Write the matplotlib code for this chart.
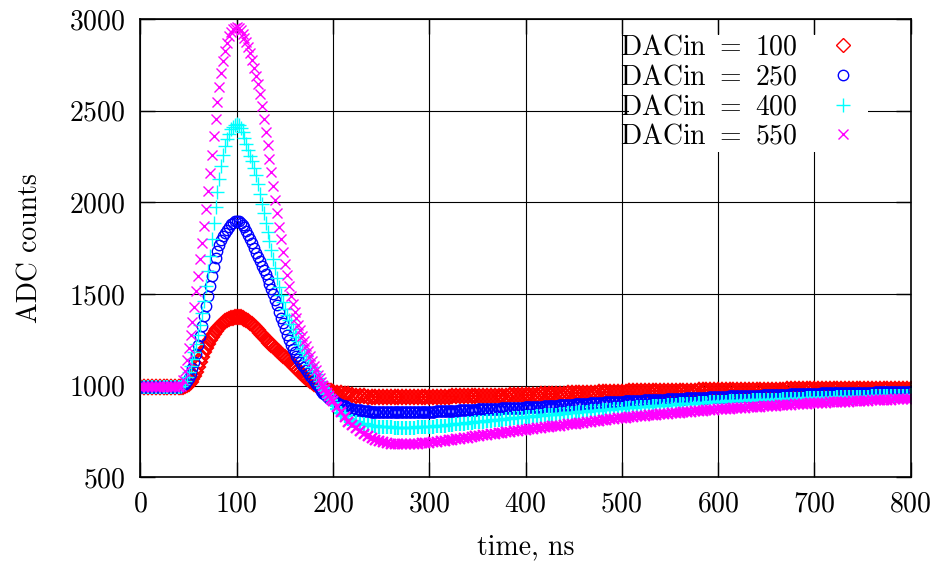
import numpy as np
import matplotlib
matplotlib.use("Agg")
import matplotlib.pyplot as plt
from matplotlib.patches import Rectangle

plt.rcParams["font.family"] = "cmr10"
plt.rcParams["mathtext.fontset"] = "cm"
plt.rcParams["axes.formatter.use_mathtext"] = True
plt.rcParams["font.size"] = 20

# time axis (ns): coarse on the baseline, 2 ns over the pulse, 4 ns on the tail
time_ns = np.concatenate([np.arange(0, 41, 4), np.arange(42, 201, 2), np.arange(204, 801, 4)])

# ADC counts
dac100 = [
    995, 995, 995, 995, 995, 995, 995, 995, 995, 995, 995,
    # 42 .. 200 ns
    995, 996, 999, 1004, 1012, 1023, 1037, 1055, 1076, 1100,
    1127, 1155, 1183, 1208, 1230, 1250, 1268, 1284, 1298, 1311,
    1323, 1334, 1344, 1352, 1359, 1365, 1369, 1372, 1374, 1375,
    1375, 1373, 1370, 1365, 1359, 1352, 1344, 1335, 1325, 1314,
    1302, 1290, 1278, 1266, 1255, 1245, 1235, 1225, 1215, 1205,
    1195, 1185, 1175, 1165, 1155, 1145, 1135, 1125, 1115, 1105,
    1095, 1085, 1075, 1065, 1055, 1045, 1036, 1027, 1018, 1010,
    1003, 997, 991, 986, 982, 978, 975, 972, 969, 967,
    # 204 .. 800 ns
    963, 959, 956, 953, 950, 947, 945, 943, 941, 940, 939, 938, 937,
    937, 937, 937, 937, 937, 938, 938, 938, 939, 939, 939, 940,
    940, 940, 941, 941, 941, 942, 942, 942, 943, 943, 944, 944, 944,
    945, 945, 946, 946, 947, 947, 947, 948, 948, 949, 949, 950,
    951, 951, 952, 953, 954, 954, 955, 956, 956, 957, 958, 959, 959,
    960, 961, 961, 962, 963, 964, 964, 965, 966, 966, 967, 968,
    968, 969, 969, 969, 970, 970, 970, 971, 971, 971, 972, 972, 972,
    973, 973, 973, 974, 974, 974, 975, 975, 975, 975, 976, 976,
    976, 976, 977, 977, 977, 977, 977, 978, 978, 978, 978, 978, 979,
    979, 979, 979, 979, 980, 980, 980, 980, 980, 981, 981, 981,
    981, 981, 982, 982, 982, 982, 982, 982, 983, 983, 983, 983, 983,
    983, 984, 984, 984, 984, 984, 984, 985, 985, 985, 985, 985,
]
dac250 = [
    995, 995, 995, 995, 995, 995, 995, 995, 995, 995, 995,
    # 42 .. 200 ns
    997, 1002, 1012, 1025, 1042, 1065, 1095, 1132, 1175, 1222,
    1272, 1325, 1380, 1435, 1490, 1545, 1600, 1650, 1697, 1735,
    1765, 1795, 1815, 1835, 1852, 1867, 1880, 1890, 1897, 1900,
    1897, 1890, 1879, 1864, 1845, 1823, 1800, 1776, 1750, 1724,
    1700, 1678, 1655, 1632, 1608, 1583, 1557, 1530, 1500, 1470,
    1438, 1405, 1372, 1340, 1308, 1278, 1250, 1225, 1202, 1182,
    1163, 1146, 1130, 1115, 1100, 1085, 1070, 1055, 1040, 1025,
    1011, 998, 986, 974, 963, 953, 944, 935, 927, 920,
    # 204 .. 800 ns
    908, 897, 888, 880, 874, 869, 866, 863, 861, 859, 858, 857, 856,
    856, 855, 855, 855, 855, 855, 855, 856, 856, 857, 857, 858,
    859, 860, 861, 862, 863, 864, 865, 866, 867, 868, 869, 870, 871,
    872, 873, 874, 875, 876, 877, 878, 879, 880, 881, 881, 882,
    883, 885, 886, 887, 888, 890, 891, 892, 894, 895, 896, 897, 899,
    900, 901, 903, 904, 905, 906, 908, 909, 910, 912, 913, 914,
    915, 916, 917, 918, 919, 920, 921, 922, 923, 924, 925, 926, 927,
    928, 929, 930, 931, 932, 933, 934, 935, 936, 937, 939, 940,
    941, 941, 942, 943, 943, 944, 945, 945, 946, 947, 947, 948, 949,
    949, 950, 951, 952, 952, 953, 953, 954, 955, 955, 956, 957,
    957, 958, 958, 959, 959, 959, 960, 960, 961, 961, 962, 962, 962,
    963, 963, 964, 964, 965, 965, 965, 966, 966, 967, 967, 968,
]
dac400 = [
    995, 995, 995, 995, 995, 995, 995, 995, 995, 995, 995,
    # 42 .. 200 ns
    998, 1008, 1025, 1048, 1075, 1108, 1145, 1185, 1228, 1275,
    1330, 1395, 1465, 1545, 1625, 1710, 1800, 1890, 1975, 2055,
    2130, 2200, 2258, 2305, 2345, 2375, 2398, 2413, 2422, 2425,
    2420, 2405, 2382, 2352, 2318, 2285, 2255, 2225, 2190, 2150,
    2100, 2045, 1990, 1940, 1890, 1840, 1790, 1740, 1690, 1640,
    1590, 1540, 1495, 1455, 1420, 1388, 1360, 1335, 1312, 1290,
    1268, 1246, 1224, 1202, 1180, 1160, 1140, 1120, 1100, 1080,
    1062, 1043, 1025, 1006, 988, 970, 953, 936, 920, 905,
    # 204 .. 800 ns
    876, 853, 835, 821, 810, 801, 794, 789, 785, 782, 779, 777, 775,
    774, 773, 772, 771, 771, 771, 772, 772, 773, 774, 774, 775,
    777, 779, 781, 783, 786, 788, 790, 792, 794, 796, 798, 800, 803,
    805, 807, 809, 811, 813, 815, 817, 820, 822, 824, 826, 828,
    830, 832, 834, 836, 838, 840, 841, 843, 845, 847, 849, 851, 853,
    855, 857, 859, 861, 863, 864, 866, 868, 870, 872, 874, 876,
    877, 879, 880, 882, 883, 885, 886, 888, 889, 890, 892, 893, 895,
    896, 898, 899, 901, 902, 903, 905, 906, 908, 909, 911, 912,
    913, 914, 915, 915, 916, 917, 918, 919, 920, 920, 921, 922, 923,
    924, 925, 925, 926, 927, 928, 929, 930, 930, 931, 932, 933,
    934, 934, 935, 935, 936, 937, 937, 938, 938, 939, 940, 940, 941,
    941, 942, 943, 943, 944, 944, 945, 946, 946, 947, 947, 948,
]
dac550 = [
    995, 995, 995, 995, 995, 995, 995, 995, 995, 995, 995,
    # 42 .. 200 ns
    1000, 1030, 1080, 1140, 1205, 1275, 1350, 1430, 1515, 1600,
    1690, 1780, 1870, 1965, 2060, 2160, 2260, 2360, 2455, 2545,
    2630, 2705, 2770, 2825, 2870, 2905, 2930, 2945, 2953, 2955,
    2950, 2938, 2920, 2898, 2872, 2845, 2812, 2775, 2735, 2690,
    2645, 2590, 2525, 2455, 2385, 2312, 2238, 2163, 2088, 2013,
    1940, 1868, 1798, 1730, 1665, 1603, 1545, 1492, 1445, 1405,
    1368, 1334, 1302, 1272, 1244, 1216, 1189, 1162, 1136, 1110,
    1085, 1060, 1040, 1018, 998, 980, 962, 945, 930, 915,
    # 204 .. 800 ns
    885, 855, 828, 805, 785, 768, 752, 738, 726, 715, 706, 698, 692,
    688, 685, 683, 682, 682, 682, 683, 684, 685, 687, 688, 690,
    693, 696, 698, 701, 704, 707, 710, 712, 715, 718, 721, 724, 726,
    729, 732, 735, 738, 740, 743, 746, 749, 752, 754, 757, 760,
    763, 765, 768, 770, 773, 776, 778, 781, 783, 786, 789, 791, 794,
    796, 799, 802, 804, 807, 809, 812, 815, 817, 820, 822, 825,
    827, 829, 831, 833, 834, 836, 838, 840, 842, 844, 846, 848, 850,
    851, 853, 855, 857, 859, 861, 863, 864, 866, 868, 870, 872,
    873, 875, 876, 877, 879, 880, 881, 883, 884, 885, 887, 888, 889,
    891, 892, 893, 895, 896, 897, 899, 900, 901, 903, 904, 905,
    906, 907, 908, 909, 910, 911, 912, 913, 914, 915, 916, 917, 918,
    919, 920, 921, 922, 923, 924, 925, 926, 927, 928, 929, 930,
]

labels = [r"DACin $=$ 100", r"DACin $=$ 250", r"DACin $=$ 400", r"DACin $=$ 550"]
colors = ["#ff0000", "#0000ff", "#00ffff", "#ff00ff"]
markers = ["D", "o", "+", "x"]
sizes = [7, 7.5, 10, 7.5]
pulse_widths = [1.5, 1.0, 1.0, 1.0]

fig = plt.figure(figsize=(9.36, 5.65), dpi=100)
ax = fig.add_axes([0.1501, 0.1549, 0.8227, 0.8115])
ax.set_axisbelow(True)

# flat parts are sampled every 1 ns in the original, so the marks there merge
# into a solid band; use a heavier stroke there to get the same look
flat = (time_ns < 42) | (time_ns >= 190)

for ys, lab, c, m, s, pw in zip([dac100, dac250, dac400, dac550], labels, colors,
                                markers, sizes, pulse_widths):
    ys = np.array(ys)
    ax.plot(time_ns[~flat], ys[~flat], linestyle="none", marker=m, markersize=s,
            markerfacecolor="none", markeredgecolor=c, markeredgewidth=pw,
            zorder=2)
    ax.plot(time_ns[flat], ys[flat], linestyle="none", marker=m, markersize=s,
            markerfacecolor="none", markeredgecolor=c, markeredgewidth=1.7,
            zorder=2)
    # legend entry with the thin stroke of the key
    ax.plot([], [], linestyle="none", marker=m, markersize=s, markerfacecolor="none",
            markeredgecolor=c, markeredgewidth=1.0, label=lab)

ax.set_xlim(0, 800)
ax.set_ylim(500, 3000)
ax.set_xticks(np.arange(0, 801, 100))
ax.set_yticks(np.arange(500, 3001, 500))
ax.grid(True, color="black", linewidth=0.8)
ax.tick_params(direction="in", length=11, width=1, top=True, right=True)
ax.tick_params(axis="x", pad=10)
ax.tick_params(axis="y", pad=11)
for sp in ax.spines.values():
    sp.set_linewidth(1.2)

# blank area behind the key, like gnuplot does
ax.add_patch(Rectangle((0.635, 0.71), 0.31, 0.255, transform=ax.transAxes,
                       facecolor="white", edgecolor="none", zorder=1))

ax.legend(loc="upper left", bbox_to_anchor=(0.6227, 0.966), frameon=False,
          markerfirst=False, borderpad=0, borderaxespad=0, labelspacing=0.12,
          handletextpad=0.55, handlelength=2.2)

ax.set_xlabel("time, ns", labelpad=12)
ax.set_ylabel("ADC counts", labelpad=18)

fig.savefig("out.png", dpi=100)
